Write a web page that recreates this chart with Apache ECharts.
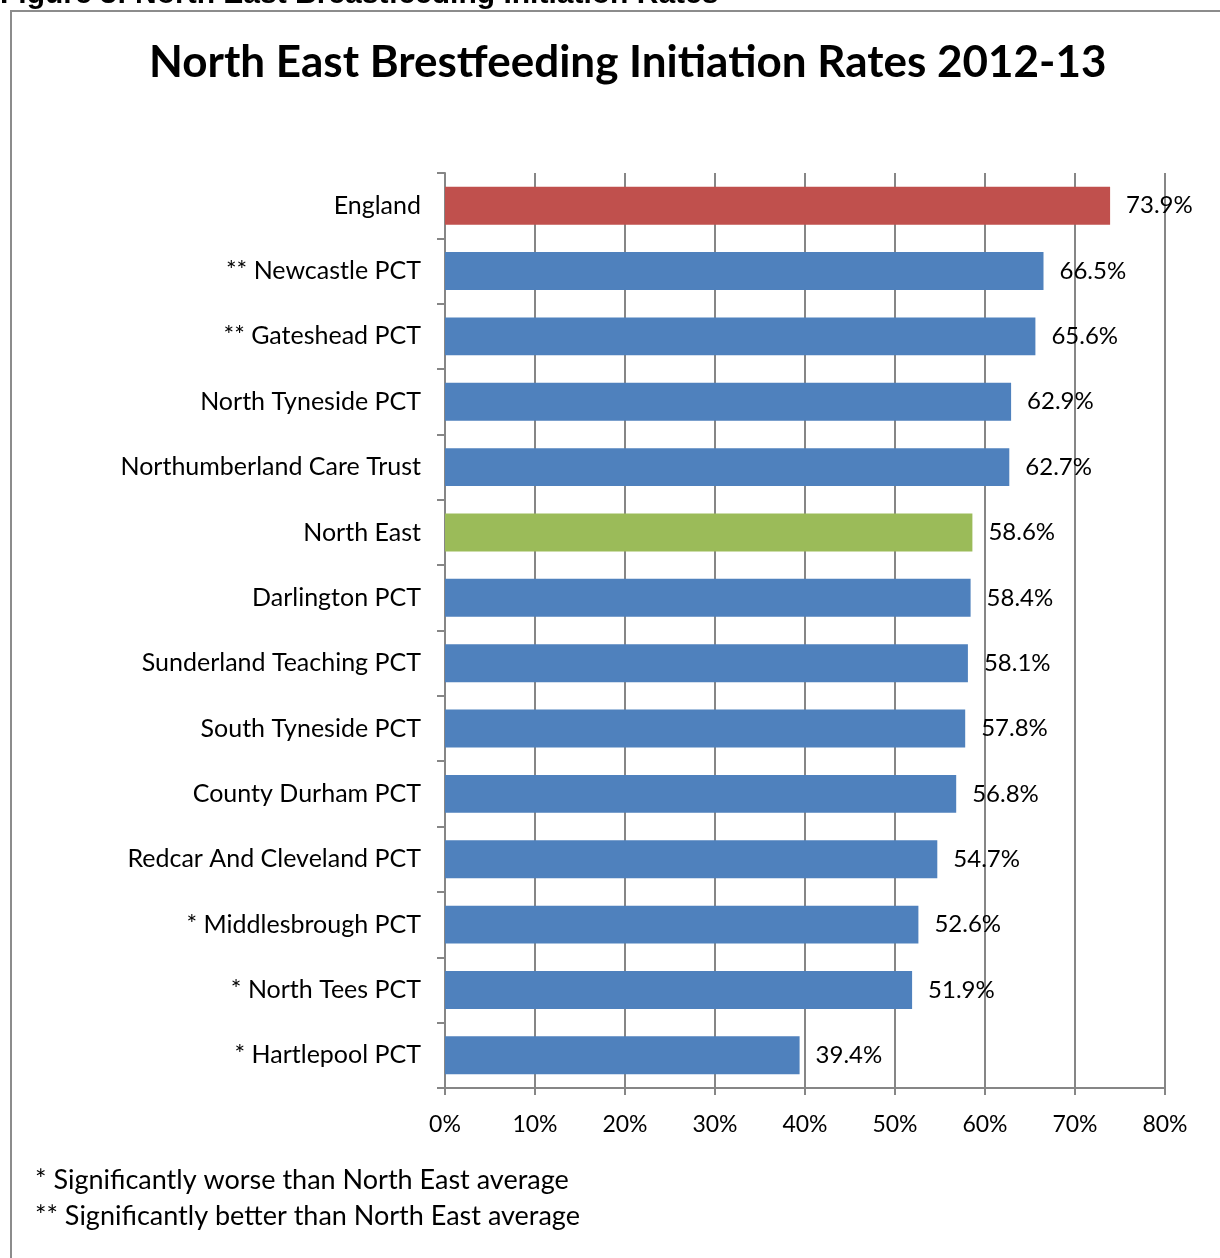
<!DOCTYPE html>
<html><head><meta charset="utf-8">
<script src="https://cdn.jsdelivr.net/npm/echarts@6/dist/echarts.min.js"></script>
<style>html,body{margin:0;padding:0;background:#fff}#c{width:1220px;height:1258px}</style>
</head><body><div id="c"></div>
<script>
const categories = ["England","** Newcastle PCT","** Gateshead PCT","North Tyneside PCT","Northumberland Care Trust","North East","Darlington PCT","Sunderland Teaching PCT","South Tyneside PCT","County Durham PCT","Redcar And Cleveland PCT","* Middlesbrough PCT","* North Tees PCT","* Hartlepool PCT"];
const values = [73.9,66.5,65.6,62.9,62.7,58.6,58.4,58.1,57.8,56.8,54.7,52.6,51.9,39.4];
const barColors = ["#C0504D","#4F81BD","#4F81BD","#4F81BD","#4F81BD","#9BBB59","#4F81BD","#4F81BD","#4F81BD","#4F81BD","#4F81BD","#4F81BD","#4F81BD","#4F81BD"];
const xTicks = [0,10,20,30,40,50,60,70,80];
const footnotes = ["* Significantly worse than North East average","** Significantly better than North East average"];
const FONT = "Lato, 'Open Sans', sans-serif";
const chart = echarts.init(document.getElementById('c'), null, {renderer:'canvas'});
chart.setOption({
  animation:false,
  backgroundColor:'#fff',
  title:{text:"North East Brestfeeding Initiation Rates 2012-13", left:144, top:36,
    textStyle:{fontFamily:FONT, fontWeight:'bold', fontSize:44, color:'#000'}},
  grid:{left:445, right:55, top:173, bottom:170, containLabel:false},
  xAxis:{type:'value', min:xTicks[0], max:xTicks[xTicks.length-1], interval:10,
    axisLine:{show:true, lineStyle:{color:'#868686', width:2}},
    axisTick:{show:true, length:7, lineStyle:{color:'#868686', width:2}},
    axisLabel:{formatter:v=>v+'%', fontFamily:FONT, fontSize:23, color:'#000', margin:25},
    splitLine:{show:true, lineStyle:{color:'#868686', width:2}}},
  yAxis:{type:'category', data:categories, inverse:true,
    axisLine:{show:true, lineStyle:{color:'#868686', width:2}},
    axisTick:{show:true, length:8, lineStyle:{color:'#868686', width:2}},
    axisLabel:{fontFamily:FONT, fontSize:25, color:'#000', margin:24}},
  series:[{type:'bar', data:values.map((v,i)=>({value:v, itemStyle:{color:barColors[i]}})),
    barCategoryGap:'42%',
    label:{show:true, position:'right', distance:16, formatter:p=>p.value.toFixed(1)+'%',
      fontFamily:FONT, fontSize:24, color:'#000'}}],
  graphic:[
    {type:'rect', shape:{x:11, y:11, width:1400, height:1400}, style:{fill:null, stroke:'#8c8c8c', lineWidth:2}, silent:true},
    {type:'text', left:0, top:-20, style:{text:"Figure 3: North East Breastfeeding Initiation Rates", font:"bold 30px 'Liberation Sans', Arial, sans-serif", fill:'#000'}},
    {type:'text', left:35, top:1167, style:{text:footnotes[0], font:"27px "+FONT, fill:'#000'}},
    {type:'text', left:35, top:1203, style:{text:footnotes[1], font:"27px "+FONT, fill:'#000'}}
  ]
});
</script></body></html>
